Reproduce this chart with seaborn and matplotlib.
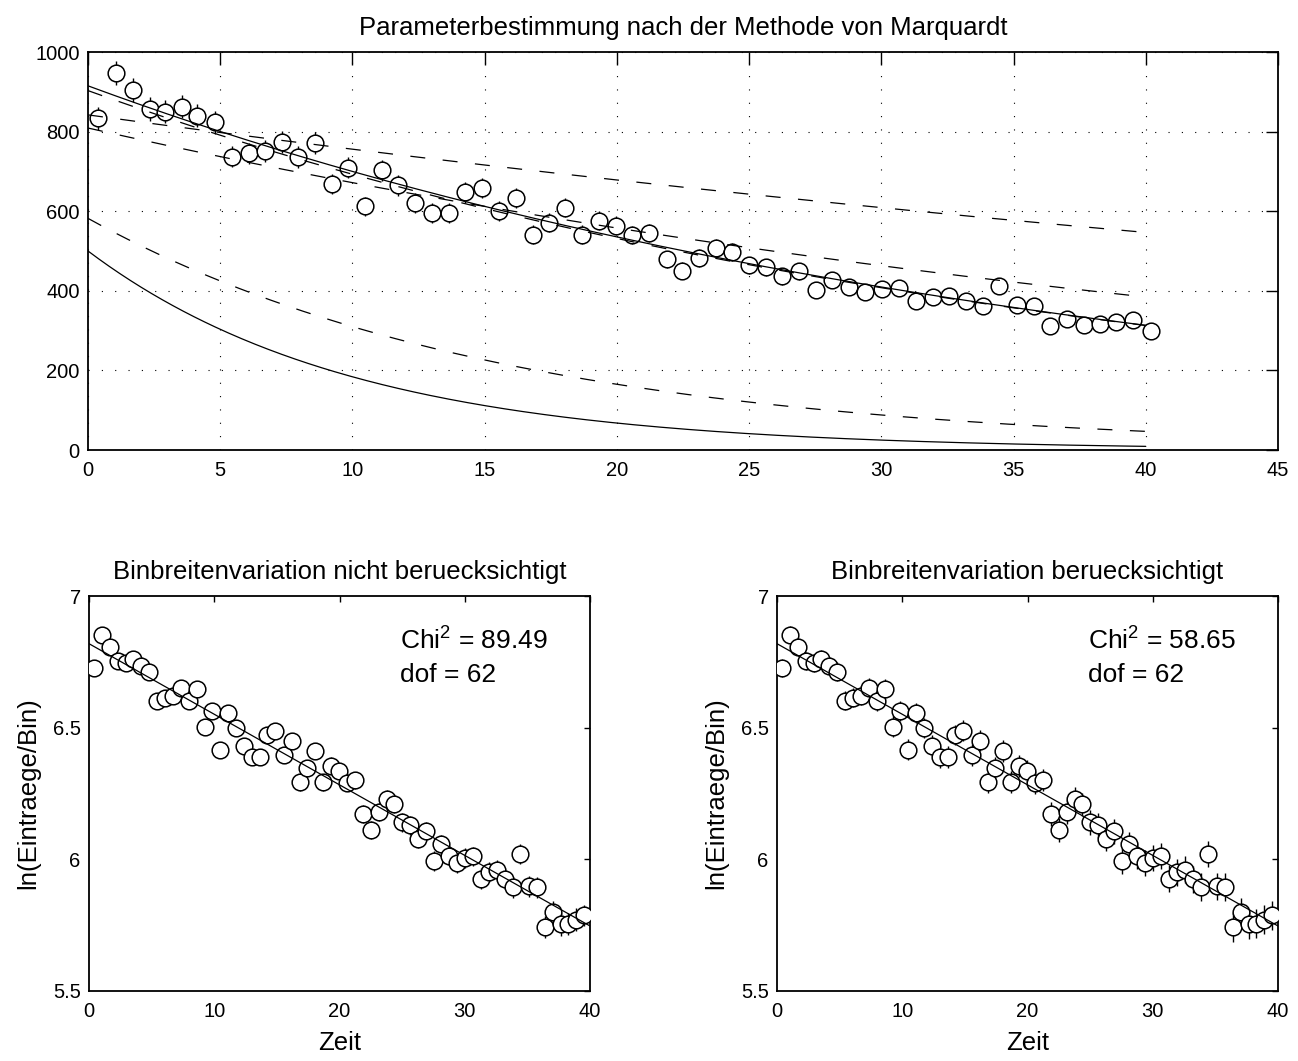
import numpy as np
import matplotlib
matplotlib.use("Agg")
import matplotlib.pyplot as plt
import seaborn as sns
import pandas as pd
from matplotlib.ticker import FormatStrFormatter, MultipleLocator

# bin centres (Zeit) and counts per bin
zeit = [0.37, 1.05, 1.69, 2.33, 2.93, 3.54, 4.14, 4.82, 5.46, 6.10,
        6.71, 7.35, 7.95, 8.59, 9.23, 9.83, 10.48, 11.12, 11.72, 12.37,
        13.01, 13.65, 14.25, 14.89, 15.54, 16.18, 16.82, 17.42, 18.03, 18.67,
        19.31, 19.95, 20.59, 21.23, 21.88, 22.48, 23.12, 23.76, 24.37, 25.01,
        25.65, 26.25, 26.89, 27.54, 28.14, 28.78, 29.38, 30.02, 30.67, 31.31,
        31.95, 32.55, 33.19, 33.84, 34.44, 35.12, 35.76, 36.37, 37.01, 37.65,
        38.25, 38.89, 39.53, 40.18]
eintraege = [834, 947, 904, 857, 850, 863, 840, 823, 737, 745,
             751, 774, 736, 771, 668, 709, 612, 703, 665, 621,
             595, 595, 647, 658, 600, 633, 541, 571, 609, 541,
             576, 564, 540, 545, 479, 451, 482, 508, 497, 464,
             459, 436, 449, 401, 427, 409, 398, 405, 408, 375,
             384, 388, 374, 363, 412, 364, 363, 312, 330, 315,
             316, 321, 326, 300]

# Marquardt iterations: amplitude A and decay constant k of A*exp(-k*t)
iter_A = [500, 582, 842, 809, 903, 915]
iter_k = [0.100, 0.063, 0.0108, 0.0186, 0.0265, 0.0268]
iter_style = ["-", "--", "--", "--", "--", "-"]

# fit result shown in the log plots
fit_A = 915
fit_k = 0.0268
chi2_texts = ["89.49", "58.65"]
dof = 62
err_scale = [0.75, 1.0]   # relative size of the log error bars
sub_titles = ["Binbreitenvariation nicht beruecksichtigt",
              "Binbreitenvariation beruecksichtigt"]

FS = 18.5      # titles and labels
FS_TICK = 14.5
sns.set_style("white")
plt.rcParams["font.family"] = ["Liberation Sans", "DejaVu Sans"]
plt.rcParams["mathtext.fontset"] = "custom"
plt.rcParams["mathtext.rm"] = "Liberation Sans"
plt.rcParams["mathtext.it"] = "Liberation Sans"
plt.rcParams["text.color"] = "black"
plt.rcParams["axes.labelcolor"] = "black"
plt.rcParams["font.size"] = FS

df = pd.DataFrame({"zeit": zeit, "n": eintraege})
df["ln_n"] = np.log(df["n"])
df["err"] = np.sqrt(df["n"])

fig = plt.figure(figsize=(12.98, 10.61), dpi=100)
W, H = 1298, 1061


def frame(ax, ticklen):
    for s in ax.spines.values():
        s.set_linewidth(1.3)
        s.set_color("black")
    ax.tick_params(direction="in", length=ticklen, width=1.0, top=True, right=True,
                   labelsize=FS_TICK, colors="black")
    ax.tick_params(axis="x", pad=8)
    ax.tick_params(axis="y", pad=6)


def points(ax, x, y, yerr):
    ax.errorbar(x, y, yerr=yerr, fmt="none", ecolor="black", elinewidth=1.0,
                capsize=0, zorder=2)
    ax.plot(x, y, "o", ms=12, mfc="white", mec="black", mew=1.1, zorder=3)


# top panel
ax = fig.add_axes([88 / W, 1 - 450 / H, 1190 / W, 398 / H])
t = np.linspace(0, 40, 400)
points(ax, df["zeit"], df["n"], df["err"])
for A, k, ls in zip(iter_A, iter_k, iter_style):
    curve = pd.DataFrame({"t": t, "y": A * np.exp(-k * t)})
    sns.lineplot(data=curve, x="t", y="y", ax=ax, color="black", lw=0.9, zorder=4)
    if ls == "--":
        ax.lines[-1].set_dashes((12, 14))
ax.set_xlim(0, 45)
ax.set_ylim(0, 1000)
ax.xaxis.set_major_locator(MultipleLocator(5))
ax.yaxis.set_major_locator(MultipleLocator(200))
ax.grid(True, color="black", linestyle=(0, (1, 11)), linewidth=0.8)
frame(ax, 9)
ax.set_xlabel("")
ax.set_ylabel("")
ax.set_title("Parameterbestimmung nach der Methode von Marquardt", fontsize=FS,
             pad=12, color="black")

# bottom panels, last bin lies outside the 0..40 range
sub = df[df["zeit"] <= 40]
for i, left in enumerate([89, 777]):
    ax = fig.add_axes([left / W, 1 - 991 / H, 501 / W, 395 / H])
    points(ax, sub["zeit"], sub["ln_n"], err_scale[i] / np.sqrt(sub["n"]))
    fit = pd.DataFrame({"t": t, "y": np.log(fit_A) - fit_k * t})
    sns.lineplot(data=fit, x="t", y="y", ax=ax, color="black", lw=0.9, zorder=4)
    ax.set_xlim(0, 40)
    ax.set_ylim(5.5, 7)
    ax.xaxis.set_major_locator(MultipleLocator(10))
    ax.yaxis.set_major_locator(MultipleLocator(0.5))
    ax.yaxis.set_major_formatter(FormatStrFormatter("%g"))
    frame(ax, 4)
    ax.set_title(sub_titles[i], fontsize=FS, pad=12, color="black")
    ax.set_xlabel("Zeit", fontsize=FS, labelpad=7)
    ax.set_ylabel("ln(Eintraege/Bin)", fontsize=FS, labelpad=9)
    ax.text(24.8, 6.83, "Chi$^2$ = " + chi2_texts[i], fontsize=19, va="center")
    ax.text(24.8, 6.70, "dof = %d" % dof, fontsize=19, va="center")

fig.savefig("out.png", dpi=100)
